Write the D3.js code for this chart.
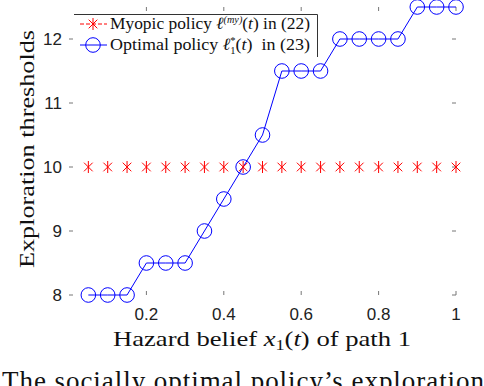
<!DOCTYPE html>
<html>
<head>
<meta charset="utf-8">
<script src="https://cdn.jsdelivr.net/npm/d3@7"></script>
<style>
  html, body { margin: 0; padding: 0; background: #fff; }
  svg { display: block; }
</style>
</head>
<body>
<svg id="chart" width="484" height="386"></svg>
<script>
// Data
const beliefs = [0.05, 0.1, 0.15, 0.2, 0.25, 0.3, 0.35, 0.4, 0.45, 0.5,
                 0.55, 0.6, 0.65, 0.7, 0.75, 0.8, 0.85, 0.9, 0.95, 1.0];
const myopic = [10, 10, 10, 10, 10, 10, 10, 10, 10, 10,
                10, 10, 10, 10, 10, 10, 10, 10, 10, 10];
const optimal = [8, 8, 8, 8.5, 8.5, 8.5, 9, 9.5, 10, 10.5,
                 11.5, 11.5, 11.5, 12, 12, 12, 12, 12.5, 12.5, 12.5];
const xTicks = [0.2, 0.4, 0.6, 0.8, 1];
const yTicks = [8, 9, 10, 11, 12];

const svg = d3.select('#chart');

const x = d3.scaleLinear().domain([0, 1]).range([69, 456]);
const y = d3.scaleLinear().domain([8, 12.5]).range([295, 7]);

const serif = '"Liberation Serif", "DejaVu Serif", serif';
const sans = '"Liberation Sans", Arial, sans-serif';

// tick marks on all four sides, pointing in
const tickLen = 4;
const ticks = svg.append('g').attr('stroke', '#777').attr('stroke-width', 1);
xTicks.forEach(function(t) {
  ticks.append('line').attr('x1', x(t)).attr('x2', x(t))
    .attr('y1', y(8)).attr('y2', y(8) - tickLen);
  ticks.append('line').attr('x1', x(t)).attr('x2', x(t))
    .attr('y1', y(12.5)).attr('y2', y(12.5) + tickLen);
});
yTicks.forEach(function(t) {
  ticks.append('line').attr('x1', x(0)).attr('x2', x(0) + tickLen)
    .attr('y1', y(t)).attr('y2', y(t));
  ticks.append('line').attr('x1', x(1)).attr('x2', x(1) - tickLen)
    .attr('y1', y(t)).attr('y2', y(t));
});

// tick labels
svg.append('g').selectAll('text').data(xTicks).enter().append('text')
  .attr('x', function(d) { return x(d); })
  .attr('y', 320)
  .attr('text-anchor', 'middle')
  .attr('font-family', sans).attr('font-size', 17).attr('fill', '#222')
  .text(function(d) { return d3.format('~g')(d); });

svg.append('g').selectAll('text').data(yTicks).enter().append('text')
  .attr('x', 62)
  .attr('y', function(d) { return y(d) + 6; })
  .attr('text-anchor', 'end')
  .attr('font-family', sans).attr('font-size', 17).attr('fill', '#222')
  .text(function(d) { return d; });

// axis titles
const xl = svg.append('text')
  .attr('x', 113).attr('y', 346)
  .attr('textLength', 298).attr('lengthAdjust', 'spacingAndGlyphs')
  .attr('font-family', serif).attr('font-size', 22).attr('fill', '#111');
xl.append('tspan').text('Hazard belief ');
xl.append('tspan').attr('font-style', 'italic').text('x');
xl.append('tspan').attr('font-size', 15).attr('dy', 4).text('1');
xl.append('tspan').attr('dy', -4).text('(');
xl.append('tspan').attr('font-style', 'italic').text('t');
xl.append('tspan').text(') of path 1');

svg.append('text')
  .attr('transform', 'translate(34,149) rotate(-90)')
  .attr('text-anchor', 'middle')
  .attr('textLength', 238).attr('lengthAdjust', 'spacingAndGlyphs')
  .attr('font-family', serif).attr('font-size', 22).attr('fill', '#111')
  .text('Exploration thresholds');

// optimal policy: line + open circles
const line = d3.line()
  .x(function(d, i) { return x(beliefs[i]); })
  .y(function(d) { return y(d); });

svg.append('path').datum(optimal)
  .attr('d', line)
  .attr('fill', 'none').attr('stroke', '#0000ff').attr('stroke-width', 1);

svg.append('g').selectAll('circle').data(optimal).enter().append('circle')
  .attr('cx', function(d, i) { return x(beliefs[i]); })
  .attr('cy', function(d) { return y(d); })
  .attr('r', 7.3)
  .attr('fill', 'none').attr('stroke', '#0000ff').attr('stroke-width', 1);

// myopic policy: asterisk markers
function asterisk(g, cx, cy, s) {
  const d = s * 0.72;
  g.append('line').attr('x1', cx).attr('x2', cx).attr('y1', cy - s).attr('y2', cy + s);
  g.append('line').attr('x1', cx - d).attr('x2', cx + d).attr('y1', cy - d).attr('y2', cy + d);
  g.append('line').attr('x1', cx - d).attr('x2', cx + d).attr('y1', cy + d).attr('y2', cy - d);
}
const stars = svg.append('g').attr('stroke', '#ff0000').attr('stroke-width', 1);
myopic.forEach(function(v, i) {
  asterisk(stars, x(beliefs[i]), y(v), 6);
});

// legend
const lg = svg.append('g');
lg.append('rect').attr('x', 74).attr('y', 14).attr('width', 243).attr('height', 44)
  .attr('fill', '#fff');
lg.append('path').attr('d', 'M74,14.5H317.5V57')
  .attr('fill', 'none').attr('stroke', '#333').attr('stroke-width', 1);

const legendY = [24, 45];
lg.append('line').attr('x1', 80).attr('x2', 107).attr('y1', legendY[0]).attr('y2', legendY[0])
  .attr('stroke', '#ff0000').attr('stroke-dasharray', '4,2');
const lgStar = lg.append('g').attr('stroke', '#ff0000');
asterisk(lgStar, 93, legendY[0], 6);
lg.append('line').attr('x1', 80).attr('x2', 107).attr('y1', legendY[1]).attr('y2', legendY[1])
  .attr('stroke', '#0000ff');
lg.append('circle').attr('cx', 93).attr('cy', legendY[1]).attr('r', 7.3)
  .attr('fill', 'none').attr('stroke', '#0000ff');

const t1 = lg.append('text').attr('x', 110).attr('y', 29)
  .attr('textLength', 200).attr('lengthAdjust', 'spacingAndGlyphs')
  .attr('font-family', serif).attr('font-size', 17).attr('fill', '#111');
t1.append('tspan').text('Myopic policy ');
t1.append('tspan').attr('font-style', 'italic').text('\u2113');
t1.append('tspan').attr('font-size', 10).attr('dy', -6).attr('font-style', 'italic').text('(my)');
t1.append('tspan').attr('dy', 6).text('(');
t1.append('tspan').attr('font-style', 'italic').text('t');
t1.append('tspan').text(') in (22)');

const t2 = lg.append('text').attr('x', 110).attr('y', 50)
  .attr('textLength', 200).attr('lengthAdjust', 'spacingAndGlyphs')
  .attr('font-family', serif).attr('font-size', 17).attr('fill', '#111');
t2.append('tspan').text('Optimal policy ');
t2.append('tspan').attr('font-style', 'italic').text('\u2113');
t2.append('tspan').attr('font-size', 10).attr('dy', -6).text('*');
t2.append('tspan').attr('font-size', 10).attr('dx', -5).attr('dy', 10).text('1');
t2.append('tspan').attr('dy', -4).text('(');
t2.append('tspan').attr('font-style', 'italic').text('t');
t2.append('tspan').text(')\u00a0 in (23)');

// caption fragment cut off at the bottom
svg.append('text')
  .attr('x', 2).attr('y', 390)
  .attr('textLength', 482).attr('lengthAdjust', 'spacing')
  .attr('font-family', serif).attr('font-size', 27).attr('fill', '#111')
  .text('The socially optimal policy\u2019s exploration');
</script>
</body>
</html>
